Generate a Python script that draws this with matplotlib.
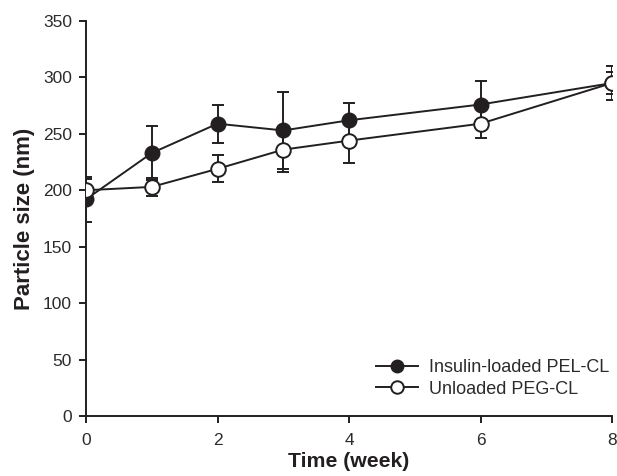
import numpy as np
import matplotlib.pyplot as plt
from matplotlib.lines import Line2D

plt.rcParams['font.family'] = ['Liberation Sans', 'DejaVu Sans']

# weeks
weeks = [0, 1, 2, 3, 4, 6, 8]

# insulin-loaded PEL-CL
loaded_mean = [192, 233, 259, 253, 262, 276, 295]
loaded_err = [20, 24, 17, 34, 15, 21, 15]

# unloaded PEG-CL
unloaded_mean = [200, 203, 219, 236, 244, 259, 295]
unloaded_err = [10, 8, 12, 20, 20, 13, 10]

ink = '#231f20'

fig = plt.figure(figsize=(6.17, 4.76), dpi=100)
ax = fig.add_axes([0.1394, 0.1261, 0.8525, 0.8298])

ax.errorbar(weeks, loaded_mean, yerr=loaded_err, color=ink, marker='o',
            markersize=10.5, markerfacecolor=ink, markeredgecolor=ink,
            lw=1.4, elinewidth=1.4, capsize=4, capthick=1.4, zorder=3)
ax.errorbar(weeks, unloaded_mean, yerr=unloaded_err, color=ink, marker='o',
            markersize=10.5, markerfacecolor='white', markeredgecolor=ink,
            markeredgewidth=1.4, lw=1.4, elinewidth=1.4, capsize=4, capthick=1.4,
            zorder=4)

ax.set_xlim(0, 8)
ax.set_ylim(0, 350)
ax.set_xticks([0, 2, 4, 6, 8])
ax.set_yticks(np.arange(0, 351, 50))
ax.spines['top'].set_visible(False)
ax.spines['right'].set_visible(False)
for sp in ['left', 'bottom']:
    ax.spines[sp].set_linewidth(1.4)
    ax.spines[sp].set_color(ink)
ax.tick_params(direction='out', length=5, width=1.4, labelsize=12.5,
               colors=ink, labelcolor='#2b2b2b')
ax.tick_params(axis='y', pad=5)
ax.tick_params(axis='x', pad=7)
ax.set_xlabel('Time (week)', fontsize=15.3, fontweight='bold', color=ink, labelpad=3)
ax.set_ylabel('Particle size (nm)', fontsize=16, fontweight='bold', color=ink, labelpad=6)

handles = [
    Line2D([], [], color=ink, lw=1.4, marker='o', markersize=9,
           markerfacecolor=ink, markeredgecolor=ink),
    Line2D([], [], color=ink, lw=1.4, marker='o', markersize=9,
           markerfacecolor='white', markeredgecolor=ink, markeredgewidth=1.4),
]
ax.legend(handles, ['Insulin-loaded PEL-CL', 'Unloaded PEG-CL'],
          loc='upper left', bbox_to_anchor=(376 / 617, 1 - 359 / 476),
          bbox_transform=fig.transFigure, frameon=False, fontsize=13,
          handlelength=2.3, handletextpad=0.65, borderpad=0, borderaxespad=0,
          labelspacing=0.25, labelcolor='#2b2b2b')

fig.savefig('out.png', dpi=100)
